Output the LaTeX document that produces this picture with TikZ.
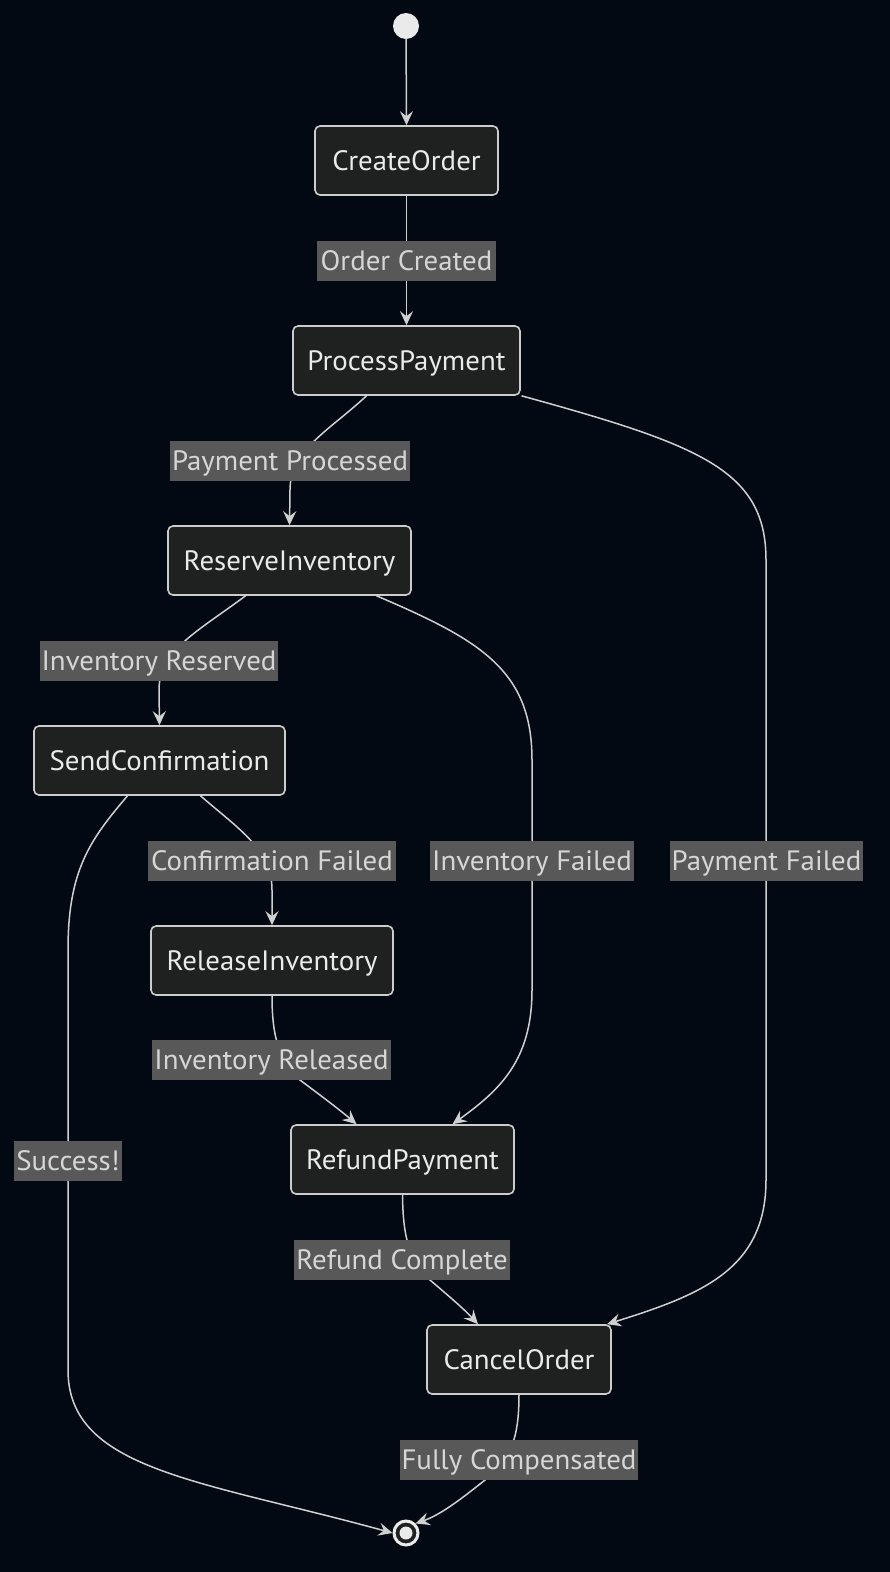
\documentclass[tikz,border=0pt]{standalone}
\usepackage{fontspec}
\setmainfont{PT Sans}[FakeStretch=1.03]
\usetikzlibrary{arrows.meta}
\definecolor{bg}{HTML}{020913}
\definecolor{nodefill}{HTML}{1F2020}
\definecolor{nodeborder}{HTML}{CCCCCC}
\definecolor{nodetext}{HTML}{EAEAEA}
\definecolor{labelbg}{HTML}{585858}
\definecolor{labeltext}{HTML}{D6D6D6}
\definecolor{edgecol}{HTML}{D0D0D0}
\tikzset{
  state/.style={draw=nodeborder, line width=1.6pt, fill=nodefill, rounded corners=5pt,
    minimum height=69pt, inner sep=0pt, text=nodetext, font=\fontsize{28}{30}\selectfont,
    text height=19.6pt, text depth=0pt},
  elabel/.style={fill=labelbg, minimum height=40pt, inner xsep=2pt, inner ysep=0pt,
    text=labeltext, font=\fontsize{28}{30}\selectfont, text height=19.6pt, text depth=0pt},
  edge/.style={draw=edgecol, line width=1.5pt,
    -{Stealth[length=14pt,width=13pt,inset=5pt,fill=edgecol]}},
  plainedge/.style={draw=edgecol, line width=1.5pt}
}
\begin{document}
\begin{tikzpicture}[x=1pt,y=-1pt]
\fill[bg] (0,0) rectangle (890,1572);
\useasboundingbox (0,0) rectangle (890,1572);

% states
\node[circle, fill=nodetext, minimum size=26pt, inner sep=0pt] (start) at (406,26) {};
\node[state, minimum width=183pt] (co) at (406.5,160.5) {CreateOrder};
\node[state, minimum width=227pt] (pp) at (406.5,360.5) {ProcessPayment};
\node[state, minimum width=243pt] (ri) at (289.5,560.5) {ReserveInventory};
\node[state, minimum width=251pt] (sc) at (159.5,760.5) {SendConfirmation};
\node[state, minimum width=242pt] (rl) at (272,960.5) {ReleaseInventory};
\node[state, minimum width=223pt] (rp) at (402.5,1159.5) {RefundPayment};
\node[state, minimum width=184pt] (cx) at (519,1359.5) {CancelOrder};
\node[circle, draw=nodetext, line width=3pt, fill=nodefill, minimum size=24pt, inner sep=0pt] (end) at (406,1533) {};
\fill[nodetext] (end.center) circle (6.5pt);

% coordinates for edge routes
\coordinate (a1) at (766,560);
\coordinate (a2) at (766,1180);
\coordinate (b1) at (532,760);
\coordinate (b2) at (532,990);
\coordinate (c1) at (68,950);
\coordinate (c2) at (68,1370);

% edges
\draw[edge] (start) -- (co.north);
\draw[edge] (co.south) -- (pp.north);
\draw[edge] ([xshift=-40pt]pp.south) .. controls (330,430) and (290,450) .. (290,490) -- (ri.north);
\draw[plainedge] ([xshift=115pt]pp.south) .. controls (700,445) and (766,470) .. (a1) -- (a2);
\draw[edge] (a2) .. controls (766,1270) and (700,1295) .. ([xshift=88pt]cx.north);
\draw[edge] ([xshift=-44pt]ri.south) .. controls (200,630) and (159,650) .. (159,690) -- (sc.north);
\draw[plainedge] ([xshift=87pt]ri.south) .. controls (480,640) and (532,670) .. (b1) -- (b2);
\draw[edge] (b2) .. controls (532,1060) and (500,1090) .. ([xshift=50pt]rp.north);
\draw[edge] ([xshift=41pt]sc.south) .. controls (240,830) and (272,850) .. (272,890) -- (rl.north);
\draw[plainedge] ([xshift=-32pt]sc.south) .. controls (90,840) and (68,870) .. (c1) -- (c2);
\draw[edge] (c2) .. controls (68,1470) and (200,1480) .. (end.west);
\draw[edge] (rl.south) .. controls (272,1040) and (280,1060) .. (300,1080) .. controls (320,1095) and (340,1110) .. ([xshift=-46pt]rp.north);
\draw[edge] (rp.south) .. controls (403,1240) and (410,1260) .. (430,1280) .. controls (450,1297) and (465,1310) .. ([xshift=-41pt]cx.north);
\draw[edge] (cx.south) .. controls (519,1440) and (510,1460) .. (485,1480) .. controls (460,1500) and (440,1515) .. (end.north east);

% labels
\node[elabel, minimum width=179pt] (l1) at (406.5,261) {Order Created};
\node[elabel, minimum width=238pt] (l2) at (290,461) {Payment Processed};
\node[elabel, minimum width=238pt] (l3) at (159,661) {Inventory Reserved};
\node[elabel, minimum width=248pt] (l4) at (272,861) {Confirmation Failed};
\node[elabel, minimum width=202pt] (l5) at (532,861) {Inventory Failed};
\node[elabel, minimum width=191pt] (l6) at (766.5,861) {Payment Failed};
\node[elabel, minimum width=237pt] (l7) at (271.5,1060) {Inventory Released};
\node[elabel, minimum width=104pt] (l8) at (68,1161) {Success!};
\node[elabel, minimum width=216pt] (l9) at (402,1260) {Refund Complete};
\node[elabel, minimum width=236pt] (l10) at (519,1460) {Fully Compensated};
\end{tikzpicture}
\end{document}
